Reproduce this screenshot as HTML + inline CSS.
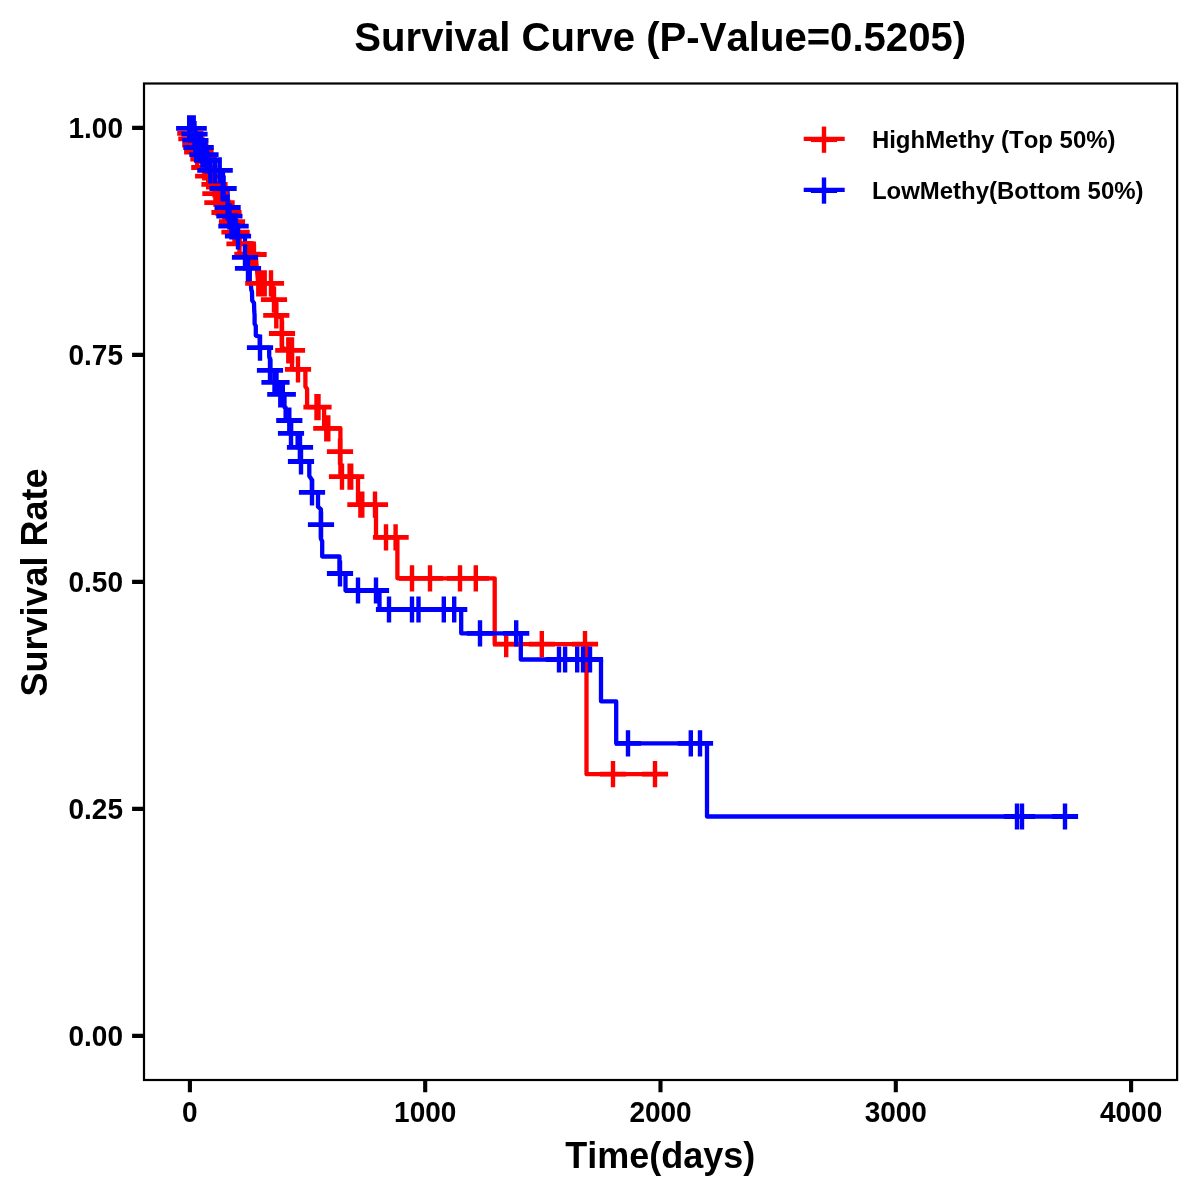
<!DOCTYPE html>
<html><head><meta charset="utf-8"><title>Survival Curve</title>
<style>html,body{margin:0;padding:0;background:#fff}body{width:1200px;height:1200px;overflow:hidden;font-family:"Liberation Sans",sans-serif}svg{display:block;will-change:transform}</style>
</head><body>
<svg width="1200" height="1200" viewBox="0 0 1200 1200">
<rect width="1200" height="1200" fill="#fff"/>
<path d="M190,128.5 V133.3 H191.4 V138.75 H195.3 V145 H197.2 V152.1 H203.4 V159.2 H204.3 V167.5 H208.2 V176.25 H214.5 V184.4 H215.4 V193.6 H217.4 V202.6 H224.5 V212.5 H232 V221.7 H234.5 V232.1 H239.5 V243.75 H254 V254.5 H255.6 L258.2,283.3 H272.7 V299.6 H276 V315.3 L281.8,318 V347.5 L288,350.3 H292 V369.4 H305.4 V386.5 L307.1,389 V407.1 H324.1 V428.3 H340.4 V476.7 H358 V504.7 H376 V537.3 H397.4 V578.3 H494.7 V644.2 H586.5 V774.2 H655" fill="none" stroke="#f00" stroke-width="4.3" stroke-linejoin="round"/>
<path d="M190,128.4 H194.5 V134.2 H195.4 V140.4 H196.4 V147.5 H202.4 V154.6 H207 V160.4 H210.3 V170.4 H223 V188.5 H227.6 V207.5 H229.4 V216.25 H231.4 V226.25 H238 V236.25 H245 V257.4 H248 V268.3 H249.8 V281.5 L250.9,284.5 L251.3,290 L252,291.5 L252.2,300.5 L254,303 L254.3,312 L254.6,315 L254.6,323.8 L255.8,326 V335.6 L259.8,336.7 V347.6 H269.2 V356.7 L270.4,360 V370.4 H275.5 V382.3 H281.5 V394.4 H284.5 V407.3 H285.6 V420.5 H291 V433.4 H297.6 V447.4 H300 V461.5 H309.3 V476 L312,480 V492.3 H318 V506.7 L320.9,509.3 V538.7 L322.2,541.3 V556.5 H339.5 V573.5 H345.5 V590.5 H379.5 V609.5 H461.2 V633.3 H520.8 V659.5 H601 V701.3 H616.2 V743.3 H707 V816.5 H1065" fill="none" stroke="#00f" stroke-width="4.3" stroke-linejoin="round"/>
<path d="M177.2,133.3h26.2M178.3,138.8h26.2M182.2,145.0h26.2M184.1,152.1h26.2M187.4,150.7h26.2M190.3,159.2h26.2M191.2,167.5h26.2M195.1,176.2h26.2M201.4,184.4h26.2M202.3,193.6h26.2M204.3,202.6h26.2M208.5,202.6h26.2M211.4,212.5h26.2M215.4,212.5h26.2M218.9,221.7h26.2M221.4,232.1h26.2M223.5,232.1h26.2M226.4,243.8h26.2M234.3,254.2h26.2M237.9,254.3h26.2M240.5,254.5h26.2M245.2,283.3h26.2M246.9,283.3h26.2M248.9,283.3h26.2M251.6,283.3h26.2M257.9,283.3h26.2M260.9,299.6h26.2M263.2,315.3h26.2M268.9,333.5h26.2M275.2,350.3h26.2M278.9,350.3h26.2M284.9,369.4h26.2M303.4,407.1h26.2M305.4,407.1h26.2M313.2,428.3h26.2M315.2,428.3h26.2M326.9,451.7h26.2M328.9,476.7h26.2M336.5,476.7h26.2M338.1,476.7h26.2M347.3,504.7h26.2M349.2,504.7h26.2M361.9,504.7h26.2M372.9,537.3h26.2M382.5,537.3h26.2M398.9,578.3h26.2M416.9,578.3h26.2M446.9,578.3h26.2M462.7,578.3h26.2M493.1,644.2h26.2M528.7,644.2h26.2M571.9,644.2h26.2M599.9,774.2h26.2M641.9,774.2h26.2" fill="none" stroke="#f00" stroke-width="4.8"/><path d="M190.3,120.2v26.2M191.4,125.7v26.2M195.3,131.9v26.2M197.2,139.0v26.2M200.5,137.6v26.2M203.4,146.1v26.2M204.3,154.4v26.2M208.2,163.2v26.2M214.5,171.3v26.2M215.4,180.5v26.2M217.4,189.5v26.2M221.6,189.5v26.2M224.5,199.4v26.2M228.5,199.4v26.2M232.0,208.6v26.2M234.5,219.0v26.2M236.6,219.0v26.2M239.5,230.7v26.2M247.4,241.1v26.2M251.0,241.2v26.2M253.6,241.4v26.2M258.3,270.2v26.2M260.0,270.2v26.2M262.0,270.2v26.2M264.7,270.2v26.2M271.0,270.2v26.2M274.0,286.5v26.2M276.3,302.2v26.2M282.0,320.4v26.2M288.3,337.2v26.2M292.0,337.2v26.2M298.0,356.3v26.2M316.5,394.0v26.2M318.5,394.0v26.2M326.3,415.2v26.2M328.3,415.2v26.2M340.0,438.6v26.2M342.0,463.6v26.2M349.6,463.6v26.2M351.2,463.6v26.2M360.4,491.6v26.2M362.3,491.6v26.2M375.0,491.6v26.2M386.0,524.2v26.2M395.6,524.2v26.2M412.0,565.2v26.2M430.0,565.2v26.2M460.0,565.2v26.2M475.8,565.2v26.2M506.2,631.1v26.2M541.8,631.1v26.2M585.0,631.1v26.2M613.0,761.1v26.2M655.0,761.1v26.2" fill="none" stroke="#f00" stroke-width="4.4"/>
<path d="M176.1,128.4h26.2M178.4,128.4h26.2M180.6,128.4h26.2M181.4,134.2h26.2M182.3,140.4h26.2M183.3,147.5h26.2M187.6,147.5h26.2M189.3,154.6h26.2M192.4,154.6h26.2M193.9,160.4h26.2M197.2,170.4h26.2M201.9,170.4h26.2M206.6,170.4h26.2M209.5,188.5h26.2M210.5,188.5h26.2M214.5,207.5h26.2M216.3,216.2h26.2M218.3,226.2h26.2M222.5,226.2h26.2M224.9,236.2h26.2M231.9,257.4h26.2M234.9,268.3h26.2M246.9,347.6h26.2M256.9,370.4h26.2M261.4,382.3h26.2M263.4,382.3h26.2M267.2,394.4h26.2M269.7,394.4h26.2M276.2,420.5h26.2M277.9,433.4h26.2M286.9,447.4h26.2M287.9,461.5h26.2M298.9,492.3h26.2M307.9,524.6h26.2M326.9,573.5h26.2M344.9,590.5h26.2M362.9,590.5h26.2M375.9,609.5h26.2M398.9,609.5h26.2M405.4,609.5h26.2M430.7,609.5h26.2M441.1,609.5h26.2M466.9,633.3h26.2M503.1,633.3h26.2M545.9,659.5h26.2M552.0,659.5h26.2M564.1,659.5h26.2M569.9,659.5h26.2M576.9,659.5h26.2M614.9,743.3h26.2M677.7,743.3h26.2M686.9,743.3h26.2M1003.9,816.5h26.2M1008.9,816.5h26.2M1051.9,816.5h26.2" fill="none" stroke="#00f" stroke-width="4.8"/><path d="M189.2,115.3v26.2M191.5,115.3v26.2M193.7,115.3v26.2M194.5,121.1v26.2M195.4,127.3v26.2M196.4,134.4v26.2M200.7,134.4v26.2M202.4,141.5v26.2M205.5,141.5v26.2M207.0,147.3v26.2M210.3,157.3v26.2M215.0,157.3v26.2M219.7,157.3v26.2M222.6,175.4v26.2M223.6,175.4v26.2M227.6,194.4v26.2M229.4,203.2v26.2M231.4,213.2v26.2M235.6,213.2v26.2M238.0,223.2v26.2M245.0,244.3v26.2M248.0,255.2v26.2M260.0,334.5v26.2M270.0,357.3v26.2M274.5,369.2v26.2M276.5,369.2v26.2M280.3,381.3v26.2M282.8,381.3v26.2M289.3,407.4v26.2M291.0,420.3v26.2M300.0,434.3v26.2M301.0,448.4v26.2M312.0,479.2v26.2M321.0,511.5v26.2M340.0,560.4v26.2M358.0,577.4v26.2M376.0,577.4v26.2M389.0,596.4v26.2M412.0,596.4v26.2M418.5,596.4v26.2M443.8,596.4v26.2M454.2,596.4v26.2M480.0,620.2v26.2M516.2,620.2v26.2M559.0,646.4v26.2M565.1,646.4v26.2M577.2,646.4v26.2M583.0,646.4v26.2M590.0,646.4v26.2M628.0,730.2v26.2M690.8,730.2v26.2M700.0,730.2v26.2M1017.0,803.4v26.2M1022.0,803.4v26.2M1065.0,803.4v26.2" fill="none" stroke="#00f" stroke-width="4.4"/>
<rect x="144" y="83.5" width="1033.1" height="996.5" fill="none" stroke="#000" stroke-width="2.2"/>
<path d="M132.1,127.9H144M132.1,354.9H144M132.1,581.9H144M132.1,808.9H144M132.1,1035.9H144M189.9,1080V1092.3M425.2,1080V1092.3M660.5,1080V1092.3M895.8,1080V1092.3M1131.1,1080V1092.3" stroke="#000" stroke-width="4.1" fill="none"/>
<g font-family="'Liberation Sans', sans-serif" font-weight="bold" fill="#000" style="font-kerning:none">
<text transform="translate(123,138.3) scale(1,1.05)" font-size="28" text-anchor="end">1.00</text>
<text transform="translate(123,365.29999999999995) scale(1,1.05)" font-size="28" text-anchor="end">0.75</text>
<text transform="translate(123,592.3) scale(1,1.05)" font-size="28" text-anchor="end">0.50</text>
<text transform="translate(123,819.3) scale(1,1.05)" font-size="28" text-anchor="end">0.25</text>
<text transform="translate(123,1046.3000000000002) scale(1,1.05)" font-size="28" text-anchor="end">0.00</text>
<text transform="translate(189.9,1122.1) scale(1,1.05)" font-size="28" text-anchor="middle">0</text>
<text transform="translate(425.2,1122.1) scale(1,1.05)" font-size="28" text-anchor="middle">1000</text>
<text transform="translate(660.5,1122.1) scale(1,1.05)" font-size="28" text-anchor="middle">2000</text>
<text transform="translate(895.8,1122.1) scale(1,1.05)" font-size="28" text-anchor="middle">3000</text>
<text transform="translate(1131.1,1122.1) scale(1,1.05)" font-size="28" text-anchor="middle">4000</text>
<text transform="translate(660.2,50.7) scale(1,1.02)" font-size="40.1" text-anchor="middle">Survival Curve (P-Value=0.5205)</text>
<text transform="translate(660.2,1168.1) scale(1,1.02)" font-size="36" text-anchor="middle">Time(days)</text>
<text transform="translate(46.8,582.5) rotate(-90) scale(1,1.02)" font-size="36" text-anchor="middle">Survival Rate</text>
<text x="871.9" y="148.1" font-size="23.97">HighMethy (Top 50%)</text>
<text x="871.9" y="199" font-size="23.97">LowMethy(Bottom 50%)</text>
</g>
<path d="M803.7,138.9H844.7" stroke="#f00" stroke-width="4.3"/><path d="M810.9,139.7h26.2" stroke="#f00" stroke-width="4.8" fill="none"/><path d="M824,126.6v26.2" stroke="#f00" stroke-width="4.4" fill="none"/>
<path d="M803.7,189.9H844.7" stroke="#00f" stroke-width="4.3"/><path d="M810.9,190.6h26.2" stroke="#00f" stroke-width="4.8" fill="none"/><path d="M824,177.5v26.2" stroke="#00f" stroke-width="4.4" fill="none"/>
</svg>
</body></html>
